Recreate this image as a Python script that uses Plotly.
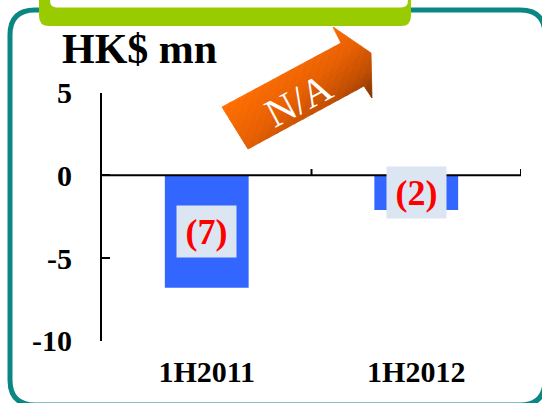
import math
import plotly.graph_objects as go

# ---------------- data ----------------
categories = ["1H2011", "1H2012"]
values = [-6.8, -2.1]
y_ticks = [5, 0, -5, -10]
y_tick_text = ["5", "0", "-5", "-10"]
y_range = [-10, 5]
unit_title = "HK$ mn"
arrow_label = "N/A"

# ---------------- geometry helpers (pixel -> paper) ----------------
W, H = 542, 403
PL, PR, PT, PB = 102, 521, 92.7, 340.7


def X(px):
    return px / W


def Y(py):
    return 1 - py / H


def path_from(points):
    s = "M {:.5f},{:.5f} ".format(X(points[0][0]), Y(points[0][1]))
    for p in points[1:]:
        s += "L {:.5f},{:.5f} ".format(X(p[0]), Y(p[1]))
    return s + "Z"


def rrect(x0, y0, x1, y1, r):
    def P(x, y):
        return "{:.5f},{:.5f}".format(X(x), Y(y))
    return (f"M {P(x0 + r, y0)} L {P(x1 - r, y0)} Q {P(x1, y0)} {P(x1, y0 + r)} "
            f"L {P(x1, y1 - r)} Q {P(x1, y1)} {P(x1 - r, y1)} L {P(x0 + r, y1)} "
            f"Q {P(x0, y1)} {P(x0, y1 - r)} L {P(x0, y0 + r)} Q {P(x0, y0)} {P(x0 + r, y0)} Z")


def clip_half(poly, f):
    out = []
    n = len(poly)
    for i in range(n):
        P, Q = poly[i], poly[(i + 1) % n]
        fp, fq = f(P), f(Q)
        if fp >= 0:
            out.append(P)
        if (fp >= 0) != (fq >= 0):
            t = fp / (fp - fq)
            out.append((P[0] + t * (Q[0] - P[0]), P[1] + t * (Q[1] - P[1])))
    return out


def hex2rgb(h):
    h = h.lstrip("#")
    return [int(h[i:i + 2], 16) for i in (0, 2, 4)]


def interp(stops, t):
    for i in range(len(stops) - 1):
        t0, c0 = stops[i]
        t1, c1 = stops[i + 1]
        if t <= t1:
            k = (t - t0) / (t1 - t0) if t1 > t0 else 0
            a, b = hex2rgb(c0), hex2rgb(c1)
            return "rgb({},{},{})".format(*[round(a[j] + k * (b[j] - a[j])) for j in range(3)])
    return "rgb({},{},{})".format(*hex2rgb(stops[-1][1]))


# ---------------- figure ----------------
fig = go.Figure()
fig.add_trace(go.Bar(
    x=categories, y=values, width=0.4,
    marker=dict(color="#3366ff", line=dict(width=0)),
    hoverinfo="skip",
))

shapes = []
# teal rounded frame
shapes.append(dict(type="path", xref="paper", yref="paper", path=rrect(10, 10, 545, 405, 25),
                   line=dict(color="#0a8783", width=5), fillcolor="rgba(0,0,0,0)", layer="below"))
# lime tab
shapes.append(dict(type="path", xref="paper", yref="paper", path=rrect(39, -30, 411, 26, 10),
                   line=dict(width=0), fillcolor="#99cc00", layer="below"))
shapes.append(dict(type="path", xref="paper", yref="paper", path=rrect(50, -30, 408, 7.5, 7),
                   line=dict(width=0), fillcolor="#ffffff", layer="below"))

# gradient arrow (decoration): convex shaft + convex head
shaft = [(222, 107), (248, 149), (364, 86), (341, 43)]
head = [(341, 43), (333, 27), (371, 53), (372, 98), (364, 86)]
th = math.radians(48)
cs, sn = math.cos(th), math.sin(th)
u = lambda p: p[0] * cs + p[1] * sn
allpts = shaft + head
umin = min(u(p) for p in allpts)
umax = max(u(p) for p in allpts)
stops = [(0.0, "#ff6e00"), (0.45, "#e85f00"), (0.75, "#c04c00"), (1.0, "#7e3000")]
N = 40
for part in (shaft, head):
    for i in range(N):
        a = umin + (umax - umin) * i / N
        b = umin + (umax - umin) * (i + 1) / N
        piece = clip_half(part, lambda p: u(p) - a)
        if len(piece) >= 3:
            piece = clip_half(piece, lambda p: b - u(p))
        if len(piece) >= 3:
            col = interp(stops, (i + 0.5) / N)
            shapes.append(dict(type="path", xref="paper", yref="paper", path=path_from(piece),
                               fillcolor=col, line=dict(color=col, width=0.8), layer="above"))

# zero line and category boundary ticks
shapes.append(dict(type="line", xref="x domain", yref="y", x0=0, x1=1, y0=0, y1=0,
                   line=dict(color="black", width=2), layer="above"))
for xb in [0.5, 1.5]:
    shapes.append(dict(type="line", xref="x", yref="y", x0=xb, x1=xb, y0=0, y1=0.38,
                       line=dict(color="black", width=2), layer="above"))

annotations = []
for c, v in zip(categories, values):
    annotations.append(dict(
        x=c, y=v / 2, xref="x", yref="y", text="({})".format(round(abs(v))), showarrow=False,
        font=dict(family="Liberation Serif", size=36, color="#ff0000", weight="bold"),
        bgcolor="#dce6f2", width=59, height=51, borderpad=0, xanchor="center", yanchor="middle",
    ))
annotations.append(dict(
    x=X(60), y=Y(49), xref="paper", yref="paper", text=unit_title, showarrow=False,
    xanchor="left", yanchor="middle",
    font=dict(family="Liberation Serif", size=42, color="black", weight="bold"),
))
annotations.append(dict(
    x=X(298), y=Y(100), xref="paper", yref="paper", text=arrow_label, showarrow=False,
    xanchor="center", yanchor="middle", textangle=-28,
    font=dict(family="Liberation Serif", size=40, color="white"),
))

fig.update_layout(
    width=W, height=H,
    margin=dict(l=0, r=0, t=0, b=0, pad=0, autoexpand=False),
    paper_bgcolor="white", plot_bgcolor="white",
    showlegend=False,
    shapes=shapes,
    annotations=annotations,
    xaxis=dict(
        domain=[X(PL), X(PR)], type="category", range=[-0.5, 1.5],
        showline=False, ticks="", showgrid=False, zeroline=False, automargin=False,
        tickfont=dict(family="Liberation Serif", size=30, color="black", weight="bold"),
        ticklabelstandoff=10,
    ),
    yaxis=dict(
        domain=[Y(PB), Y(PT)], range=y_range, tickvals=y_ticks, ticktext=y_tick_text,
        showline=True, linecolor="black", linewidth=2, mirror=False, automargin=False,
        ticks="inside", ticklen=8, tickwidth=2, tickcolor="black",
        showgrid=False, zeroline=False,
        tickfont=dict(family="Liberation Serif", size=30, color="black", weight="bold"),
        ticklabelstandoff=22,
    ),
)

fig.write_html("out.html", config={"displayModeBar": False},
               post_script="document.body.style.margin='0px';")
